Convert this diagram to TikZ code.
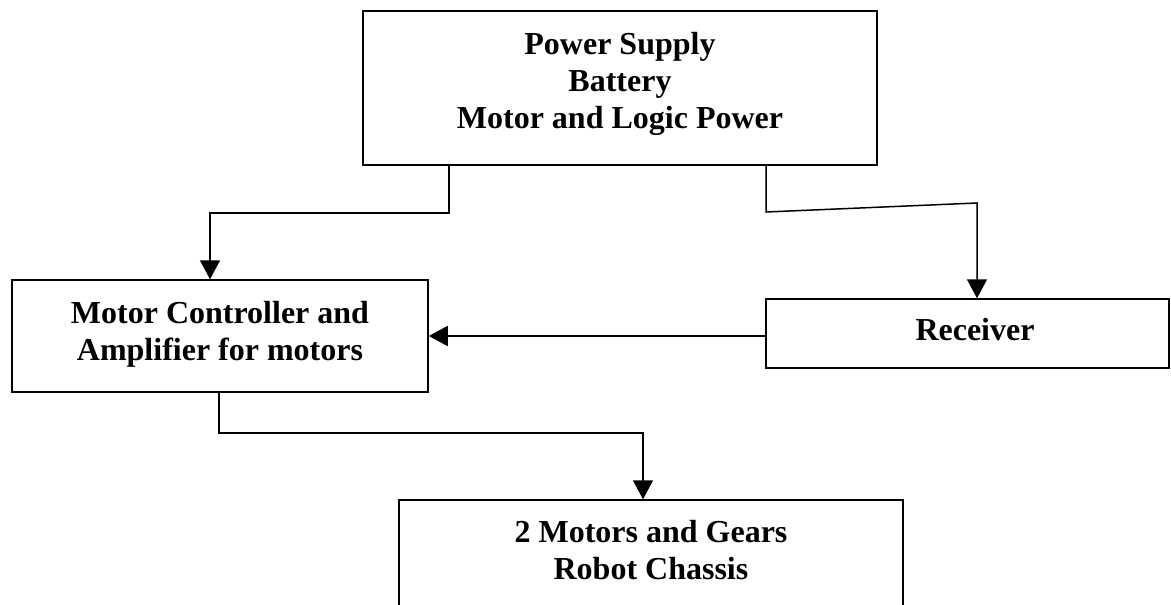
\documentclass[tikz,border=0pt]{standalone}
\usepackage{fontspec}
\setmainfont{Liberation Serif}
\usetikzlibrary{arrows.meta}
\begin{document}
\begin{tikzpicture}[x=1pt,y=-1pt,
  box/.style={draw=black,line width=1.5pt,inner sep=0pt,fill=none},
  lbl/.style={font=\fontsize{32}{37}\selectfont\bfseries,align=center,inner sep=0pt},
  conn/.style={draw=black,line width=1.5pt},
  arr/.style={conn,-{Triangle[length=19pt,width=20pt]}}]
\useasboundingbox (0,0) rectangle (1171,605);
\begin{scope}
\clip (0,0) rectangle (1171,605);
% boxes
\node[box,minimum width=514pt,minimum height=154pt] (power) at (620,88) {};
\node[box,minimum width=416pt,minimum height=112pt] (ctrl) at (220,336) {};
\node[box,minimum width=403pt,minimum height=69pt] (recv) at (967.5,333.5) {};
\node[box,minimum width=504pt,minimum height=120pt] (mot) at (651,560) {};
% texts
\node[lbl] (powert) at (620,84) {Power Supply\\Battery\\Motor and Logic Power};
\node[lbl] (ctrlt) at (220,334) {Motor Controller and\\Amplifier for motors};
\node[lbl] (recvt) at (975,330) {Receiver};
\node[lbl] (mott) at (651,550) {2 Motors and Gears\\Robot Chassis};
% bend points
\coordinate (a1) at (449,213);
\coordinate (a2) at (210,213);
\coordinate (b1) at (766,212);
\coordinate (b2) at (977,203);
\coordinate (c0) at (766,336);
\coordinate (d1) at (219,433);
\coordinate (d2) at (643,433);
% connectors
\draw[arr] (power.south -| a1) -- (a1) -- (a2) -- (ctrl.north -| a2);
\draw[arr] (power.south -| b1) -- (b1) -- (b2) -- (recv.north -| b2);
\draw[arr] (recv.west |- c0) -- (ctrl.east |- c0);
\draw[arr] (ctrl.south -| d1) -- (d1) -- (d2) -- (mot.north -| d2);
\end{scope}
\end{tikzpicture}
\end{document}
